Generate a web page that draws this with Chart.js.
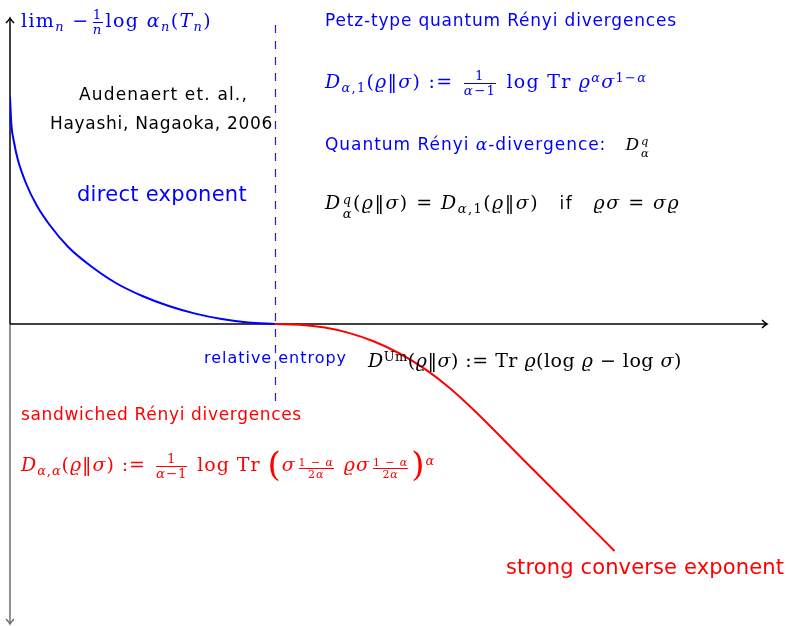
<!DOCTYPE html>
<html>
<head>
<meta charset="utf-8">
<script src="https://cdn.jsdelivr.net/npm/chart.js@4.4.1/dist/chart.umd.min.js"></script>
<style>
  html, body { margin: 0; padding: 0; background: #fff; }
  #wrap { position: relative; width: 787px; height: 626px; overflow: hidden; }
  #plot { position: absolute; left: 0; top: 0; }
  .lbl { position: absolute; white-space: nowrap; line-height: 1; }
  .sf { font-family: "DejaVu Sans", "Open Sans", sans-serif; }
  .m { font-family: "DejaVu Serif", "Liberation Serif", serif; }
  .m i, i.m { font-style: italic; }
  .blue { color: #0000ff; }
  .red { color: #ff0000; }
  .black { color: #000; }
  sub, sup { font-size: 0.68em; line-height: 0; }
  sub { vertical-align: -0.3em; }
  sup { vertical-align: 0.5em; }
  .frac { display: inline-flex; flex-direction: column; vertical-align: middle; text-align: center;
          font-size: 0.7em; line-height: 1.05; margin: 0 3px; }
  .frac > span + span { border-top: 1px solid currentColor; }
  sup .frac { font-size: 0.85em; vertical-align: -0.1em; }
  .ss { display: inline-flex; flex-direction: column; font-size: 0.68em; line-height: 1.05;
        vertical-align: 0.42em; margin-left: 1px; }
  .big { font-size: 1.8em; vertical-align: -0.14em; font-weight: lighter; }
</style>
</head>
<body>
<div id="wrap">
  <canvas id="plot" width="787" height="626"></canvas>

  <div class="lbl m blue" data-w="191" style="left:21px;top:8px;font-size:19px">lim<sub><i>n</i></sub> −<span class="frac"><span>1</span><span><i>n</i></span></span>log <i>α</i><sub><i>n</i></sub>(<i>T</i><sub><i>n</i></sub>)</div>

  <div class="lbl sf black" data-w="169" style="left:79px;top:86px;font-size:17px">Audenaert et. al.,</div>
  <div class="lbl sf black" data-w="223" style="left:50px;top:115px;font-size:17px">Hayashi, Nagaoka, 2006</div>

  <div class="lbl sf blue" data-w="170" style="left:77px;top:184px;font-size:21px">direct exponent</div>

  <div class="lbl sf blue" data-w="352" style="left:325px;top:12px;font-size:17px">Petz-type quantum Rényi divergences</div>

  <div class="lbl m blue" data-w="322" style="left:325px;top:69px;font-size:19px"><i>D</i><sub><i>α</i>,1</sub>(<i>ϱ</i>‖<i>σ</i>) := <span class="frac"><span>1</span><span><i>α</i>−1</span></span> log Tr <i>ϱ</i><sup><i>α</i></sup><i>σ</i><sup>1−<i>α</i></sup></div>

  <div class="lbl sf blue" data-w="325" style="left:325px;top:135px;font-size:17px">Quantum Rényi <i class="m">α</i>-divergence:&nbsp;&nbsp; <span class="m black"><i>D</i><span class="ss"><i>q</i><i>α</i></span></span></div>

  <div class="lbl m black" data-w="355" style="left:325px;top:193px;font-size:19px"><i>D</i><span class="ss"><i>q</i><i>α</i></span>(<i>ϱ</i>‖<i>σ</i>) = <i>D</i><sub><i>α</i>,1</sub>(<i>ϱ</i>‖<i>σ</i>)&emsp;<span class="sf" style="font-size:17px">if</span>&emsp;<i>ϱσ</i> = <i>σϱ</i></div>

  <div class="lbl sf blue" data-w="143" style="left:204px;top:350px;font-size:16px">relative entropy</div>

  <div class="lbl m black" data-w="314" style="left:368px;top:351px;font-size:19px"><i>D</i><sup>Um</sup>(<i>ϱ</i>‖<i>σ</i>) := Tr <i>ϱ</i>(log <i>ϱ</i> − log <i>σ</i>)</div>

  <div class="lbl sf red" data-w="281" style="left:21px;top:406px;font-size:17px">sandwiched Rényi divergences</div>

  <div class="lbl m red" data-w="414" style="left:21px;top:447px;font-size:19px"><i>D</i><sub><i>α</i>,<i>α</i></sub>(<i>ϱ</i>‖<i>σ</i>) := <span class="frac"><span>1</span><span><i>α</i>−1</span></span> log Tr <span class="big">(</span><i>σ</i><sup><span class="frac"><span>1 − <i>α</i></span><span>2<i>α</i></span></span></sup> <i>ϱσ</i><sup><span class="frac"><span>1 − <i>α</i></span><span>2<i>α</i></span></span></sup><span class="big">)</span><sup><i>α</i></sup></div>

  <div class="lbl sf red" data-w="278" style="left:506px;top:557px;font-size:21px">strong converse exponent</div>
</div>

<script>
// rate r (x) and exponent value (y); the relative entropy sits at r = 1
const relEntropy = 1
const directRate = [0, 0.005, 0.015, 0.03, 0.06, 0.1, 0.15, 0.22, 0.3, 0.4, 0.5, 0.6, 0.7, 0.8, 0.9, 1.0]
const directExp = [2.27, 2.00, 1.82, 1.64, 1.41, 1.19, 0.99, 0.77, 0.59, 0.41, 0.28, 0.18, 0.104, 0.050, 0.015, 0]
const converseRate = [1.0, 1.094, 1.189, 1.283, 1.378, 1.472, 1.567, 1.661, 1.756, 1.944, 2.133, 2.284]
const converseExp = [0, -0.007, -0.036, -0.091, -0.177, -0.295, -0.449, -0.640, -0.870, -1.37, -1.87, -2.27]

const toPoints = (xs, ys) => xs.map((x, i) => ({ x, y: ys[i] }))

// spread the letters of each label so it spans its width
function fitLabels() {
  document.querySelectorAll(".lbl[data-w]").forEach((el) => {
    const target = Number(el.dataset.w)
    const n = el.textContent.length
    for (let k = 0; k < 3; k++) {
      const cur = el.getBoundingClientRect().width
      const ls = parseFloat(el.style.letterSpacing || "0") + (target - cur) / n
      el.style.letterSpacing = ls.toFixed(2) + "px"
    }
  })
}
fitLabels()
if (document.fonts) document.fonts.ready.then(fitLabels)

// arrow head in the tikz "to" style
function arrowHead(ctx, x, y, dir) {
  const back = 5, half = 4
  ctx.beginPath()
  if (dir === "right") {
    ctx.moveTo(x - back, y - half); ctx.quadraticCurveTo(x - 2, y - 1, x, y); ctx.quadraticCurveTo(x - 2, y + 1, x - back, y + half)
  } else if (dir === "up") {
    ctx.moveTo(x - half, y + back); ctx.quadraticCurveTo(x - 1, y + 2, x, y); ctx.quadraticCurveTo(x + 1, y + 2, x + half, y + back)
  } else {
    ctx.moveTo(x - half, y - back); ctx.quadraticCurveTo(x - 1, y - 2, x, y); ctx.quadraticCurveTo(x + 1, y - 2, x + half, y - back)
  }
  ctx.stroke()
}

const axesPlugin = {
  id: "axes",
  beforeDatasetsDraw(chart) {
    const { ctx, chartArea, scales } = chart
    const x0 = scales.x.getPixelForValue(0)
    const y0 = scales.y.getPixelForValue(0)
    ctx.save()
    ctx.lineWidth = 1.5

    // vertical axis: upper part black, lower part grey
    ctx.strokeStyle = "#000"
    ctx.beginPath(); ctx.moveTo(x0, y0); ctx.lineTo(x0, chartArea.top - 6); ctx.stroke()
    arrowHead(ctx, x0, chartArea.top - 6, "up")
    ctx.strokeStyle = "#6e6e6e"
    ctx.beginPath(); ctx.moveTo(x0, y0); ctx.lineTo(x0, chartArea.bottom); ctx.stroke()
    arrowHead(ctx, x0, chartArea.bottom, "down")

    // horizontal axis
    ctx.strokeStyle = "#000"
    ctx.beginPath(); ctx.moveTo(x0, y0); ctx.lineTo(chartArea.right, y0); ctx.stroke()
    arrowHead(ctx, chartArea.right, y0, "right")

    // dashed marker at the relative entropy
    const xr = Math.round(scales.x.getPixelForValue(relEntropy)) + 0.5
    ctx.strokeStyle = "#1a1aff"
    ctx.lineWidth = 1.2
    ctx.setLineDash([8, 8])
    ctx.beginPath()
    ctx.moveTo(xr, scales.y.getPixelForValue(2.99))
    ctx.lineTo(xr, scales.y.getPixelForValue(-0.77))
    ctx.stroke()
    ctx.restore()
  }
}

new Chart(document.getElementById("plot"), {
  type: "line",
  data: {
    datasets: [
      {
        label: "direct exponent",
        data: toPoints(directRate, directExp),
        borderColor: "#0000ff",
        borderWidth: 2,
        pointRadius: 0,
        cubicInterpolationMode: "monotone",
      },
      {
        label: "strong converse exponent",
        data: toPoints(converseRate, converseExp),
        borderColor: "#ff0000",
        borderWidth: 2,
        pointRadius: 0,
        cubicInterpolationMode: "monotone",
      },
    ],
  },
  options: {
    responsive: false,
    animation: false,
    layout: { padding: { left: 10, right: 20, top: 24, bottom: 2 } },
    scales: {
      x: { type: "linear", min: 0, max: 2.86, display: false },
      y: { type: "linear", min: -3, max: 3, display: false },
    },
    plugins: {
      legend: { display: false },
      tooltip: { enabled: false },
    },
  },
  plugins: [axesPlugin],
})
</script>
</body>
</html>
